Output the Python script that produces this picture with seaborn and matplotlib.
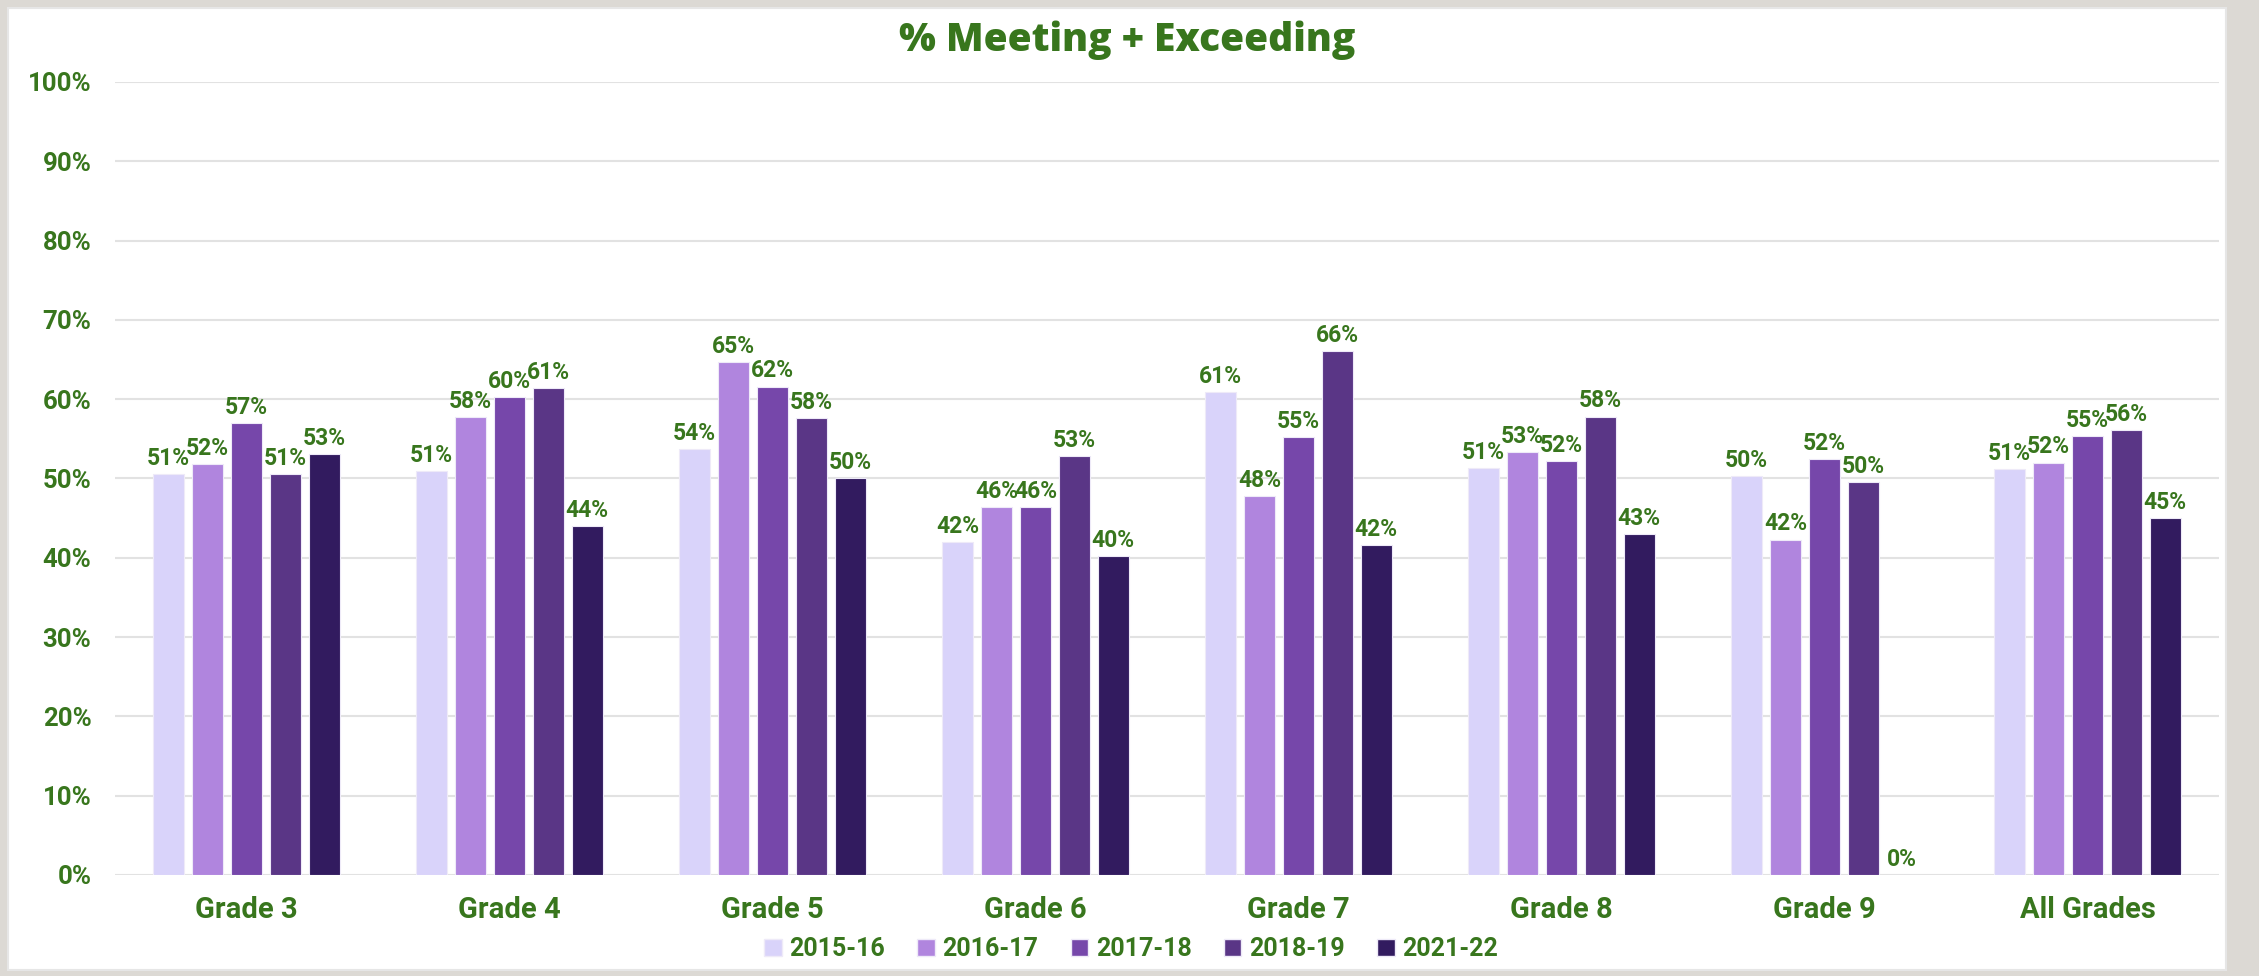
import matplotlib
matplotlib.use("Agg")
import matplotlib.pyplot as plt
import seaborn as sns
import pandas as pd
from matplotlib.patches import Rectangle, Patch

grades = ["Grade 3", "Grade 4", "Grade 5", "Grade 6", "Grade 7", "Grade 8", "Grade 9", "All Grades"]
years = ["2015-16", "2016-17", "2017-18", "2018-19", "2021-22"]
v_2015_16 = [50.6, 50.9, 53.7, 42.0, 60.9, 51.3, 50.3, 51.2]
v_2016_17 = [51.8, 57.7, 64.7, 46.4, 47.8, 53.3, 42.3, 52.0]
v_2017_18 = [57.0, 60.3, 61.6, 46.4, 55.2, 52.2, 52.4, 55.3]
v_2018_19 = [50.6, 61.4, 57.6, 52.8, 66.1, 57.8, 49.6, 56.1]
v_2021_22 = [53.1, 44.0, 50.1, 40.2, 41.6, 43.0, 0.0, 45.0]
y_ticks = [0, 10, 20, 30, 40, 50, 60, 70, 80, 90, 100]
title = "% Meeting + Exceeding"

colors = ["#D9D3FA", "#B085DE", "#7647AA", "#5A3686", "#321B5F"]
green = "#38761D"

series = [v_2015_16, v_2016_17, v_2017_18, v_2018_19, v_2021_22]
rows = []
for yr, vals in zip(years, series):
    for g, v in zip(grades, vals):
        rows.append({"grade": g, "year": yr, "value": v})
df = pd.DataFrame(rows)

sns.set_theme(style="white")
plt.rcParams["font.family"] = ["Roboto", "DejaVu Sans"]

W, H = 2259, 976
fig = plt.figure(figsize=(W / 100, H / 100), dpi=100)
fig.patch.set_facecolor("#DCD9D4")
bg = fig.add_axes([0, 0, 1, 1], zorder=-10)
bg.set_xlim(0, W)
bg.set_ylim(0, H)
bg.axis("off")
bg.add_patch(Rectangle((8, 6), 2226 - 8, 968 - 6, facecolor="white",
                       edgecolor="#E6E6E6", linewidth=1.5))

ax = fig.add_axes([115 / W, 1 - 875 / H, (2219 - 115) / W, (875 - 82) / H])
ax.set_facecolor("none")

sns.barplot(data=df, x="grade", y="value", hue="year", order=grades, hue_order=years,
            palette=colors, saturation=1, width=0.74, gap=0.2, ax=ax, legend=False,
            edgecolor="#EEEAF8", linewidth=0.8, zorder=3)

for cont, vals in zip(ax.containers, series):
    ax.bar_label(cont, labels=[f"{v:.0f}%" for v in vals], padding=3,
                 color=green, fontweight="bold", fontsize=16.5, zorder=4)

ax.set_xlim(-0.5, len(grades) - 0.5)
ax.set_ylim(0, 100)
ax.set_yticks(y_ticks)
ax.set_yticklabels([f"{t}%" for t in y_ticks])
ax.yaxis.grid(True, color="#E2E2E2", linewidth=1.5, zorder=0)
ax.set_axisbelow(True)
for s in ax.spines.values():
    s.set_visible(False)
ax.tick_params(axis="y", length=0, pad=17, labelsize=18.5, labelcolor=green)
ax.tick_params(axis="x", length=0, pad=15, labelsize=21, labelcolor=green)
for lbl in ax.get_xticklabels() + ax.get_yticklabels():
    lbl.set_fontweight("bold")
ax.set_xlabel("")
ax.set_ylabel("")

fig.text(1127 / W, 1 - 40 / H, title, ha="center", va="center", color=green,
         fontsize=28, fontweight="heavy", family=["Open Sans", "DejaVu Sans"])

handles = [Patch(facecolor=c, edgecolor="#EEEAF8", label=y) for c, y in zip(colors, years)]
leg = fig.legend(handles=handles, loc="center", bbox_to_anchor=(1131 / W, 1 - 949 / H),
                 ncol=5, frameon=False, handlelength=0.7, handleheight=0.7,
                 handletextpad=0.3, columnspacing=1.3,
                 prop={"weight": "bold", "size": 18})
for t in leg.get_texts():
    t.set_color(green)

fig.savefig("out.png", dpi=100, facecolor=fig.get_facecolor())
